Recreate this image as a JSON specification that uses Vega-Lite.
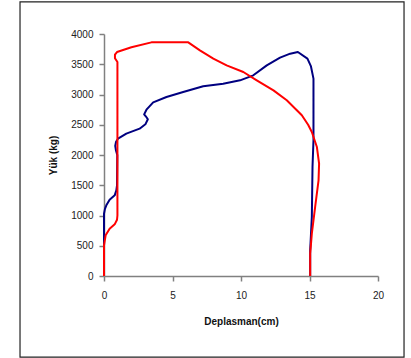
{
  "$schema": "https://vega.github.io/schema/vega-lite/v6.json",
  "width": 274,
  "height": 242,
  "autosize": {"type": "none"},
  "padding": {"left": 104, "top": 34, "right": 33, "bottom": 82},
  "background": "white",
  "config": {
    "view": {"stroke": null},
    "font": "Liberation Sans",
    "axis": {
      "grid": false,
      "labelFlush": false,
      "labelOverlap": false,
      "domainColor": "#808080",
      "domainWidth": 1.5,
      "tickColor": "#808080",
      "tickWidth": 1.5,
      "tickSize": 5,
      "labelFont": "Liberation Sans",
      "labelFontSize": 10,
      "labelColor": "#222222",
      "titleFont": "Liberation Sans",
      "titleFontSize": 10,
      "titleFontWeight": "bold",
      "titleColor": "#111111"
    }
  },
  "datasets": {
    "curves": [
      {"s": "A", "i": 1, "x": 0, "y": 0},
      {"s": "A", "i": 2, "x": 0, "y": 1030},
      {"s": "A", "i": 3, "x": 0.07, "y": 1110},
      {"s": "A", "i": 4, "x": 0.17, "y": 1168},
      {"s": "A", "i": 5, "x": 0.41, "y": 1262},
      {"s": "A", "i": 6, "x": 0.78, "y": 1333},
      {"s": "A", "i": 7, "x": 0.9, "y": 1416},
      {"s": "A", "i": 8, "x": 0.95, "y": 1499},
      {"s": "A", "i": 9, "x": 0.97, "y": 2000},
      {"s": "A", "i": 10, "x": 0.87, "y": 2080},
      {"s": "A", "i": 11, "x": 0.82, "y": 2150},
      {"s": "A", "i": 12, "x": 0.88, "y": 2220},
      {"s": "A", "i": 13, "x": 1.02, "y": 2270},
      {"s": "A", "i": 14, "x": 1.63, "y": 2353},
      {"s": "A", "i": 15, "x": 2.6, "y": 2435},
      {"s": "A", "i": 16, "x": 3.02, "y": 2507},
      {"s": "A", "i": 17, "x": 3.2, "y": 2590},
      {"s": "A", "i": 18, "x": 3.05, "y": 2640},
      {"s": "A", "i": 19, "x": 2.93, "y": 2672},
      {"s": "A", "i": 20, "x": 3.1, "y": 2749},
      {"s": "A", "i": 21, "x": 3.59, "y": 2870},
      {"s": "A", "i": 22, "x": 4.56, "y": 2959},
      {"s": "A", "i": 23, "x": 5.78, "y": 3041},
      {"s": "A", "i": 24, "x": 7.24, "y": 3135},
      {"s": "A", "i": 25, "x": 8.7, "y": 3179},
      {"s": "A", "i": 26, "x": 9.93, "y": 3234},
      {"s": "A", "i": 27, "x": 10.9, "y": 3317},
      {"s": "A", "i": 28, "x": 11.88, "y": 3482},
      {"s": "A", "i": 29, "x": 12.85, "y": 3609},
      {"s": "A", "i": 30, "x": 13.59, "y": 3675},
      {"s": "A", "i": 31, "x": 14.15, "y": 3702},
      {"s": "A", "i": 32, "x": 14.85, "y": 3592},
      {"s": "A", "i": 33, "x": 15.1, "y": 3470},
      {"s": "A", "i": 34, "x": 15.29, "y": 3262},
      {"s": "A", "i": 35, "x": 15.29, "y": 2242},
      {"s": "A", "i": 36, "x": 15.22, "y": 1802},
      {"s": "A", "i": 37, "x": 15.17, "y": 975},
      {"s": "A", "i": 38, "x": 15.05, "y": 424},
      {"s": "A", "i": 39, "x": 15.05, "y": 0},
      {"s": "B", "i": 1, "x": 0, "y": 0},
      {"s": "B", "i": 2, "x": 0, "y": 507},
      {"s": "B", "i": 3, "x": 0.12, "y": 672},
      {"s": "B", "i": 4, "x": 0.41, "y": 782},
      {"s": "B", "i": 5, "x": 0.78, "y": 854},
      {"s": "B", "i": 6, "x": 0.95, "y": 930},
      {"s": "B", "i": 7, "x": 0.98, "y": 1000},
      {"s": "B", "i": 8, "x": 0.98, "y": 3537},
      {"s": "B", "i": 9, "x": 0.8, "y": 3600},
      {"s": "B", "i": 10, "x": 0.8, "y": 3660},
      {"s": "B", "i": 11, "x": 0.95, "y": 3702},
      {"s": "B", "i": 12, "x": 2.0, "y": 3780},
      {"s": "B", "i": 13, "x": 3.46, "y": 3862},
      {"s": "B", "i": 14, "x": 6.15, "y": 3862},
      {"s": "B", "i": 15, "x": 7.0, "y": 3730},
      {"s": "B", "i": 16, "x": 7.98, "y": 3592},
      {"s": "B", "i": 17, "x": 8.95, "y": 3482},
      {"s": "B", "i": 18, "x": 10.17, "y": 3372},
      {"s": "B", "i": 19, "x": 11.15, "y": 3234},
      {"s": "B", "i": 20, "x": 12.37, "y": 3069},
      {"s": "B", "i": 21, "x": 13.34, "y": 2904},
      {"s": "B", "i": 22, "x": 14.44, "y": 2656},
      {"s": "B", "i": 23, "x": 14.9, "y": 2500},
      {"s": "B", "i": 24, "x": 15.17, "y": 2380},
      {"s": "B", "i": 25, "x": 15.54, "y": 2132},
      {"s": "B", "i": 26, "x": 15.7, "y": 1857},
      {"s": "B", "i": 27, "x": 15.66, "y": 1581},
      {"s": "B", "i": 28, "x": 15.41, "y": 1140},
      {"s": "B", "i": 29, "x": 15.17, "y": 700},
      {"s": "B", "i": 30, "x": 15.05, "y": 369},
      {"s": "B", "i": 31, "x": 15.05, "y": 0}
    ],
    "frame": [
      {"x1": -6.13, "x2": 21.9, "y1": 4530, "y2": -1340}
    ]
  },
  "resolve": {"axis": {"x": "independent", "y": "independent"}},
  "layer": [
    {
      "data": {"name": "frame"},
      "mark": {"type": "rect", "fill": null, "stroke": "#222222", "strokeWidth": 1.2, "clip": false},
      "encoding": {
        "x": {"field": "x1", "type": "quantitative", "scale": {"domain": [0, 20], "nice": false}, "axis": null},
        "x2": {"field": "x2"},
        "y": {"field": "y1", "type": "quantitative", "scale": {"domain": [0, 4000], "nice": false}, "axis": null},
        "y2": {"field": "y2"}
      }
    },
    {
      "data": {"name": "curves"},
      "mark": {"type": "line", "strokeWidth": 2, "interpolate": "linear", "strokeJoin": "round", "clip": false},
      "encoding": {
        "x": {
          "field": "x", "type": "quantitative",
          "scale": {"domain": [0, 20], "nice": false, "zero": false},
          "axis": {"values": [0, 5, 10, 15, 20], "labelOverlap": false, "title": "Deplasman(cm)", "labelPadding": 9, "titlePadding": 16}
        },
        "y": {
          "field": "y", "type": "quantitative",
          "scale": {"domain": [0, 4000], "nice": false},
          "axis": {"values": [0, 500, 1000, 1500, 2000, 2500, 3000, 3500, 4000], "labelOverlap": false, "format": "d", "title": "Yük (kg)", "labelPadding": 6, "titlePadding": 12}
        },
        "color": {
          "field": "s", "type": "nominal",
          "scale": {"domain": ["A", "B"], "range": ["#000080", "#FF0000"]},
          "legend": null
        },
        "order": {"field": "i", "type": "quantitative"}
      }
    }
  ]
}
